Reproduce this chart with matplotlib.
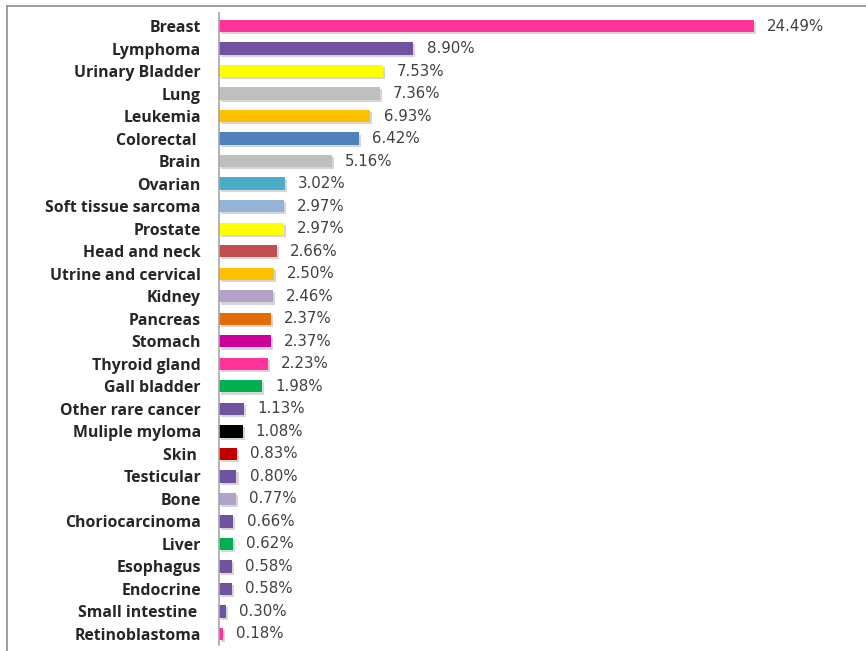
import matplotlib.pyplot as plt
from matplotlib.lines import Line2D
from matplotlib.patheffects import SimplePatchShadow, Normal

cancers = [
    'Breast', 'Lymphoma', 'Urinary Bladder', 'Lung', 'Leukemia', 'Colorectal ', 'Brain',
    'Ovarian', 'Soft tissue sarcoma', 'Prostate', 'Head and neck', 'Utrine and cervical',
    'Kidney', 'Pancreas', 'Stomach', 'Thyroid gland', 'Gall bladder', 'Other rare cancer',
    'Muliple myloma', 'Skin ', 'Testicular', 'Bone', 'Choriocarcinoma', 'Liver',
    'Esophagus', 'Endocrine', 'Small intestine ', 'Retinoblastoma'
]

percent = [
    24.49, 8.90, 7.53, 7.36, 6.93, 6.42, 5.16, 3.02, 2.97, 2.97, 2.66, 2.50, 2.46, 2.37,
    2.37, 2.23, 1.98, 1.13, 1.08, 0.83, 0.80, 0.77, 0.66, 0.62, 0.58, 0.58, 0.30, 0.18
]

bar_colors = [
    '#FF3399', '#7152A0', '#FFFF00', '#BFBFBF', '#FFC000', '#4F81BD', '#BFBFBF',
    '#4BACC6', '#95B3D7', '#FFFF00', '#C0504D', '#FFC000', '#B3A2C7', '#E36C09',
    '#CC0099', '#FF3399', '#00B050', '#70529F', '#000000', '#C00000', '#70529F',
    '#B3A2C7', '#70529F', '#00B050', '#70529F', '#70529F', '#70529F', '#FF3399'
]

plt.rcParams['font.family'] = ['Open Sans', 'DejaVu Sans']

fig = plt.figure(figsize=(8.66, 6.51), dpi=100)
ax = fig.add_axes([219 / 866, 6 / 651, 631 / 866, 632 / 651])

y = list(range(len(cancers)))
bars = ax.barh(y, percent, height=0.55, color=bar_colors)
for b in bars:
    b.set_path_effects([SimplePatchShadow(offset=(1.5, -1.5), shadow_rgbFace='#999999', alpha=0.4), Normal()])

for yi, v in zip(y, percent):
    ax.annotate(f'{v:.2f}%', (v, yi), xytext=(9.5, 0), textcoords='offset points',
                va='center', ha='left', fontsize=10.8, color='#404040',
                family=['DejaVu Sans'])

ax.set_xlim(0, 28.9)
ax.set_ylim(len(cancers) - 0.51, -0.58)
ax.set_yticks(y)
ax.set_yticklabels(cancers, fontsize=11.4, fontweight='bold', color='#262626')
ax.tick_params(axis='y', length=0, pad=13)
ax.set_xticks([])
for s in ['top', 'right', 'bottom']:
    ax.spines[s].set_visible(False)
ax.spines['left'].set_color('#A6A6A6')
ax.spines['left'].set_linewidth(1.2)

# outer frame (top and left edges)
fig.add_artist(Line2D([7 / 866, 1], [1 - 6 / 651, 1 - 6 / 651], color='#8C8C8C', lw=1.2))
fig.add_artist(Line2D([7 / 866, 7 / 866], [0, 1 - 6 / 651], color='#8C8C8C', lw=1.2))

fig.savefig('out.png', dpi=100)
